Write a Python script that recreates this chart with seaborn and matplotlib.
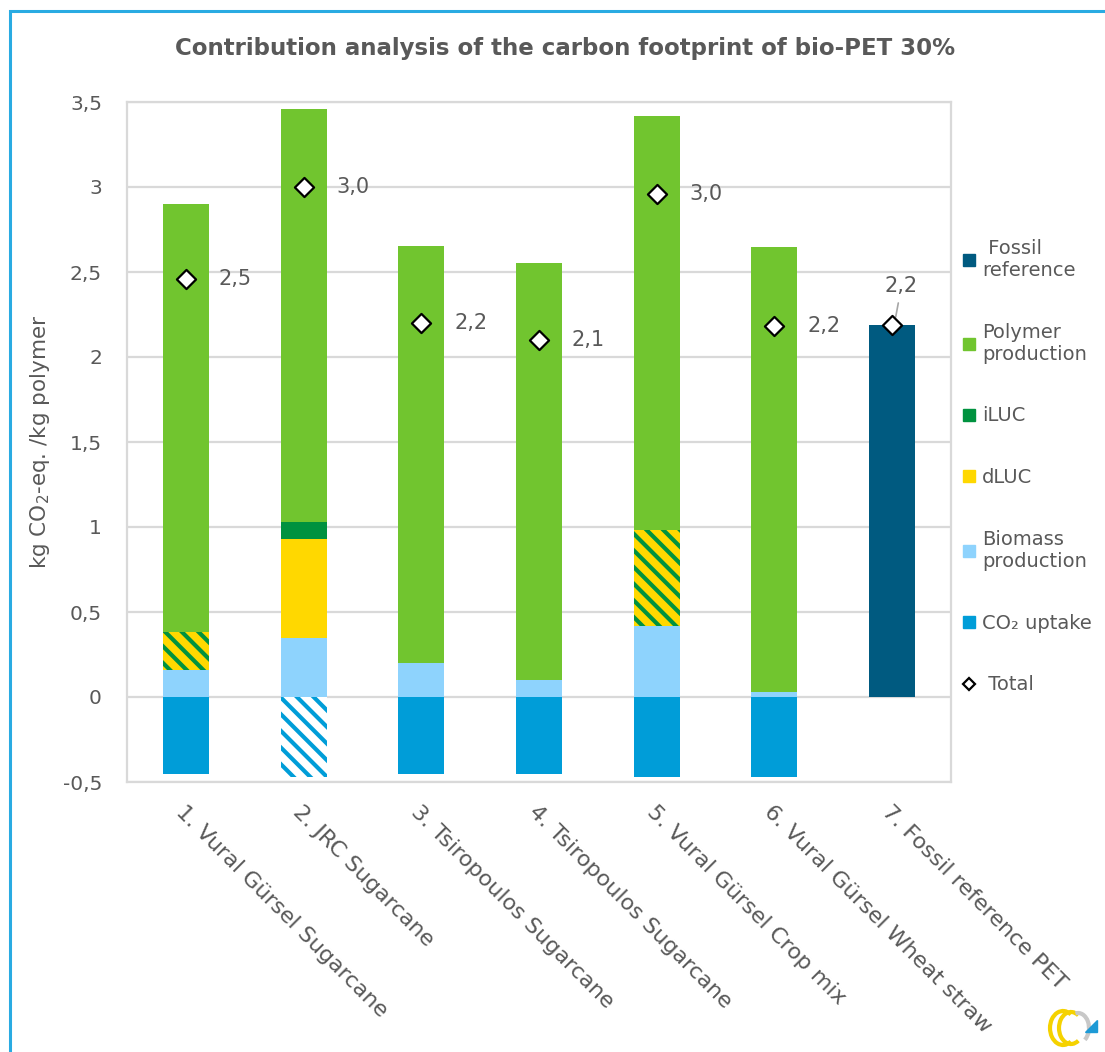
import numpy as np
import matplotlib
matplotlib.use("Agg")
import matplotlib.pyplot as plt
import seaborn as sns
from matplotlib.lines import Line2D
from matplotlib.patches import Rectangle, Arc, Polygon
from matplotlib.ticker import FuncFormatter

# ==========================================
# DATA (kg CO2-eq. / kg polymer)
# ==========================================
categories = [
    "1. Vural Gürsel Sugarcane",
    "2. JRC Sugarcane",
    "3. Tsiropoulos Sugarcane",
    "4. Tsiropoulos Sugarcane",
    "5. Vural Gürsel Crop mix",
    "6. Vural Gürsel Wheat straw",
    "7. Fossil reference PET",
]
co2_uptake = [-0.45, 0.0, -0.45, -0.45, -0.47, -0.47, 0.0]
co2_uptake_hatched = [0.0, -0.47, 0.0, 0.0, 0.0, 0.0, 0.0]
biomass = [0.16, 0.35, 0.20, 0.10, 0.42, 0.03, 0.0]
dluc = [0.0, 0.58, 0.0, 0.0, 0.0, 0.0, 0.0]
iluc = [0.0, 0.10, 0.0, 0.0, 0.0, 0.0, 0.0]
luc_mixed = [0.22, 0.0, 0.0, 0.0, 0.56, 0.0, 0.0]   # dLUC + iLUC, hatched
polymer = [2.52, 2.43, 2.45, 2.45, 2.44, 2.62, 0.0]
fossil = [0.0, 0.0, 0.0, 0.0, 0.0, 0.0, 2.19]
total = [2.46, 3.0, 2.2, 2.1, 2.96, 2.18, 2.19]

legend_labels = [" Fossil\nreference", "Polymer\nproduction", "iLUC", "dLUC",
                 "Biomass\nproduction", "CO\u2082 uptake", " Total"]

# ==========================================
# STYLE
# ==========================================
C_FOSSIL = "#005a80"
C_POLYMER = "#71c52f"
C_ILUC = "#00923f"
C_DLUC = "#ffd800"
C_BIOMASS = "#8ed3fd"
C_CO2 = "#009dd8"
C_TEXT = "#595959"
C_GRID = "#d9d9d9"

sns.set_theme(style="white")
plt.rcParams["font.family"] = ["DejaVu Sans"]
plt.rcParams["hatch.linewidth"] = 3.0

fig = plt.figure(figsize=(11.05, 10.52), dpi=100)
ax = fig.add_axes([127 / 1105, 1 - 782 / 1052, (951 - 127) / 1105, (782 - 102) / 1052])

BAR_W = 0.39


def draw_layer(values, color, hatch=None, hatch_color=None):
    sns.barplot(x=categories, y=values, color=color, width=BAR_W, saturation=1,
                errorbar=None, ax=ax)
    for p in ax.containers[-1]:
        p.set_linewidth(0)
        p.set_facecolor(color)
        if hatch:
            p.set_hatch(hatch)
            p.set_edgecolor(hatch_color)


# stack the positive parts by drawing cumulative heights from the top down
b = np.array(biomass)
top_dluc = b + np.array(dluc)
top_iluc = top_dluc + np.array(iluc)
top_mixed = b + np.array(luc_mixed)
top_polymer = np.maximum(top_iluc, top_mixed) + np.array(polymer)

draw_layer(top_polymer, C_POLYMER)
draw_layer(top_iluc, C_ILUC)
draw_layer(top_dluc, C_DLUC)
draw_layer(top_mixed, C_DLUC, hatch="\\\\", hatch_color=C_ILUC)
draw_layer(biomass, C_BIOMASS)
draw_layer(fossil, C_FOSSIL)
draw_layer(co2_uptake, C_CO2)
draw_layer(co2_uptake_hatched, "white", hatch="\\\\", hatch_color=C_CO2)

# totals
xpos = np.arange(len(categories))
ax.scatter(xpos, total, marker="D", s=95, facecolor="white", edgecolor="black",
           linewidths=1.6, zorder=5)
for i, v in enumerate(total):
    lab = f"{v:.1f}".replace(".", ",")
    if i == len(categories) - 1:
        ax.annotate(lab, xy=(i + 0.03, v + 0.045), xytext=(i + 0.08, v + 0.23),
                    ha="center", va="center", fontsize=15, color=C_TEXT,
                    arrowprops=dict(arrowstyle="-", color="#a6a6a6", lw=1.2,
                                    shrinkA=3, shrinkB=0))
    else:
        ax.text(i + 0.28, v, lab, ha="left", va="center", fontsize=15, color=C_TEXT)

# axes styling
ax.set_ylim(-0.5, 3.5)
ax.set_xlim(-0.5, len(categories) - 0.5)
ax.set_yticks(np.arange(-0.5, 3.51, 0.5))
ax.yaxis.set_major_formatter(FuncFormatter(
    lambda v, _: f"{v:g}".replace(".", ",") if abs(v) > 1e-9 else "0"))
ax.yaxis.grid(True, color=C_GRID, lw=1.6)
ax.set_axisbelow(True)
for s in ax.spines.values():
    s.set_color(C_GRID)
    s.set_linewidth(1.6)
ax.tick_params(axis="both", length=0, labelsize=14.5, colors=C_TEXT)
ax.tick_params(axis="y", pad=18)
ax.set_xticks(xpos)
ax.set_xticklabels(categories, rotation=-45, ha="left", va="top",
                   rotation_mode="anchor", fontsize=16, color=C_TEXT)
ax.tick_params(axis="x", pad=14)
ax.set_xlabel("")
ax.set_ylabel("kg CO$_2$-eq. /kg polymer", fontsize=15.5, color=C_TEXT, labelpad=8)

fig.text(565 / 1105, 1 - 48 / 1052,
         "Contribution analysis of the carbon footprint of bio-PET 30%",
         ha="center", va="center", fontsize=16.5, fontweight="bold", color=C_TEXT)

# legend
handles = [Line2D([], [], ls="none", marker="s", ms=8, mfc=c, mec=c)
           for c in [C_FOSSIL, C_POLYMER, C_ILUC, C_DLUC, C_BIOMASS, C_CO2]]
handles.append(Line2D([], [], ls="none", marker="D", ms=6, mfc="white",
                      mec="black", mew=1.6))
leg = fig.legend(handles, legend_labels, loc="upper left",
                 bbox_to_anchor=(953 / 1105, 1 - 231 / 1052),
                 frameon=False, fontsize=14, labelspacing=2.2,
                 handlelength=0.8, handletextpad=0.3, borderaxespad=0)
for t in leg.get_texts():
    t.set_color(C_TEXT)

# frame line on the left and top of the picture
fig.add_artist(Rectangle((10 / 1105, -0.1), 1.2, 1.1 - 11 / 1052,
                         transform=fig.transFigure, fill=False,
                         edgecolor="#29abe2", lw=2.2))

# small logo bottom right
lax = fig.add_axes([1043 / 1105, 2 / 1052, 58 / 1105, 44 / 1052])
lax.set_xlim(0, 58)
lax.set_ylim(0, 44)
lax.set_aspect("equal")
lax.axis("off")
lax.add_patch(Arc((20, 22), 26, 34, theta1=60, theta2=300, color="#f5d200", lw=3))
lax.add_patch(Arc((28, 22), 24, 32, theta1=60, theta2=300, color="#f5d200", lw=3))
lax.add_patch(Arc((35, 22), 22, 30, theta1=-60, theta2=100, color="#c8c8c8", lw=3))
lax.add_patch(Polygon([[42, 18], [54, 18], [54, 30]], closed=True, color="#1d9ad6"))

fig.savefig("out.png", dpi=100)
